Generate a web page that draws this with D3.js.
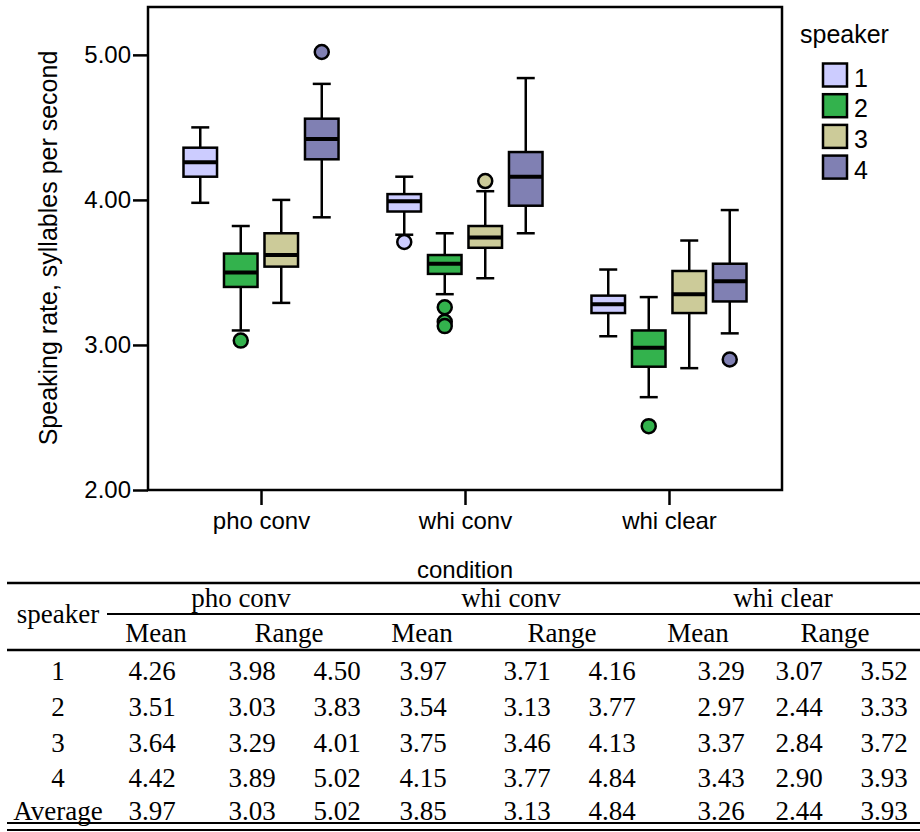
<!DOCTYPE html>
<html>
<head>
<meta charset="utf-8">
<script src="https://cdn.jsdelivr.net/npm/d3@7"></script>
<style>
  body { margin: 0; background: #fff; }
  svg { display: block; }
  .sans { font-family: "Liberation Sans", Arial, sans-serif; fill: #000; }
  .serif { font-family: "Liberation Serif", "Times New Roman", serif; fill: #000; }
</style>
</head>
<body>
<svg id="chart" width="920" height="832"></svg>
<script>
var conditions = ['pho conv', 'whi conv', 'whi clear'];
var speakers = ['1', '2', '3', '4'];
var speakerColors = ['#ccccff', '#33b24d', '#cccb99', '#8080b3'];
var yTicks = [2, 3, 4, 5];

// box stats per condition, one row per speaker: [lower whisker, q1, median, q3, upper whisker]
var phoConvBoxes = [
  [3.98, 4.16, 4.26, 4.36, 4.50],
  [3.10, 3.40, 3.50, 3.63, 3.82],
  [3.29, 3.54, 3.62, 3.77, 4.00],
  [3.88, 4.28, 4.42, 4.56, 4.80]
];
var whiConvBoxes = [
  [3.76, 3.92, 3.99, 4.04, 4.16],
  [3.35, 3.49, 3.56, 3.62, 3.77],
  [3.46, 3.67, 3.74, 3.82, 4.06],
  [3.77, 3.96, 4.16, 4.33, 4.84]
];
var whiClearBoxes = [
  [3.06, 3.22, 3.28, 3.34, 3.52],
  [2.64, 2.85, 2.98, 3.10, 3.33],
  [2.84, 3.22, 3.35, 3.51, 3.72],
  [3.08, 3.30, 3.44, 3.56, 3.93]
];
var phoConvOutliers = [[], [3.03], [], [5.02]];
var whiConvOutliers = [[3.71], [3.26, 3.16, 3.13], [4.13], []];
var whiClearOutliers = [[], [2.44], [], [2.90]];

// table below the chart
var tableRows = ['1', '2', '3', '4', 'Average'];
var phoConvTable = [
  ['4.26', '3.98', '4.50'], ['3.51', '3.03', '3.83'], ['3.64', '3.29', '4.01'],
  ['4.42', '3.89', '5.02'], ['3.97', '3.03', '5.02']
];
var whiConvTable = [
  ['3.97', '3.71', '4.16'], ['3.54', '3.13', '3.77'], ['3.75', '3.46', '4.13'],
  ['4.15', '3.77', '4.84'], ['3.85', '3.13', '4.84']
];
var whiClearTable = [
  ['3.29', '3.07', '3.52'], ['2.97', '2.44', '3.33'], ['3.37', '2.84', '3.72'],
  ['3.43', '2.90', '3.93'], ['3.26', '2.44', '3.93']
];

var allBoxes = [phoConvBoxes, whiConvBoxes, whiClearBoxes];
var allOutliers = [phoConvOutliers, whiConvOutliers, whiClearOutliers];
var allTables = [phoConvTable, whiConvTable, whiClearTable];

var svg = d3.select('#chart');
var plotL = 148, plotR = 782, plotT = 7, plotB = 490;

var x = d3.scalePoint().domain(conditions).range([plotL, plotR]).padding(0.554);
var sub = d3.scaleBand().domain(speakers).range([-81, 81]).paddingInner(0.11).paddingOuter(0.055);
var y = d3.scaleLinear().domain([2, 5.33]).range([plotB, plotT]);
var color = d3.scaleOrdinal().domain(speakers).range(speakerColors);

// frame
svg.append('rect')
  .attr('x', plotL).attr('y', plotT)
  .attr('width', plotR - plotL).attr('height', plotB - plotT)
  .attr('fill', 'none').attr('stroke', '#000').attr('stroke-width', 2.5);

// y axis
var yAxis = svg.append('g')
  .attr('transform', 'translate(' + plotL + ',0)')
  .call(d3.axisLeft(y).tickValues(yTicks).tickFormat(d3.format('.2f')).tickSize(15).tickPadding(2));
yAxis.select('.domain').remove();
yAxis.selectAll('line').attr('stroke', '#000').attr('stroke-width', 2.5);
yAxis.selectAll('text').attr('font-size', 24).attr('font-family', '"Liberation Sans", Arial, sans-serif').attr('fill', '#000');

// x axis
var xAxis = svg.append('g')
  .attr('transform', 'translate(0,' + plotB + ')')
  .call(d3.axisBottom(x).tickSize(15).tickPadding(7));
xAxis.select('.domain').remove();
xAxis.selectAll('line').attr('stroke', '#000').attr('stroke-width', 2.5);
xAxis.selectAll('text').attr('font-size', 24).attr('font-family', '"Liberation Sans", Arial, sans-serif').attr('fill', '#000');

svg.append('text')
  .attr('class', 'sans')
  .attr('transform', 'translate(57,248) rotate(-90)')
  .attr('text-anchor', 'middle')
  .attr('font-size', 25)
  .text('Speaking rate, syllables per second');

svg.append('text')
  .attr('class', 'sans')
  .attr('x', 465).attr('y', 578)
  .attr('text-anchor', 'middle')
  .attr('font-size', 24)
  .text('condition');

// boxes
var boxData = [];
conditions.forEach(function(c, ci){
  speakers.forEach(function(s, si){
    var b = allBoxes[ci][si];
    boxData.push({cond: c, speaker: s, lo: b[0], q1: b[1], med: b[2], q3: b[3], hi: b[4], out: allOutliers[ci][si]});
  });
});

var bw = sub.bandwidth();
var boxes = svg.selectAll('.box')
  .data(boxData)
  .enter()
  .append('g')
  .attr('class', 'box')
  .attr('transform', d => 'translate(' + (x(d.cond) + sub(d.speaker) + bw / 2) + ',0)');

boxes.append('line')
  .attr('x1', 0).attr('x2', 0)
  .attr('y1', d => y(d.lo)).attr('y2', d => y(d.hi))
  .attr('stroke', '#000').attr('stroke-width', 2.5);

boxes.selectAll('.cap')
  .data(d => [d.lo, d.hi])
  .enter()
  .append('line')
  .attr('class', 'cap')
  .attr('x1', -9).attr('x2', 9)
  .attr('y1', d => y(d)).attr('y2', d => y(d))
  .attr('stroke', '#000').attr('stroke-width', 2.5);

boxes.append('rect')
  .attr('x', -bw / 2 + 1.25)
  .attr('width', bw - 2.5)
  .attr('y', d => y(d.q3))
  .attr('height', d => y(d.q1) - y(d.q3))
  .attr('fill', d => color(d.speaker))
  .attr('stroke', '#000').attr('stroke-width', 2.5);

boxes.append('line')
  .attr('x1', -bw / 2 + 1.25).attr('x2', bw / 2 - 1.25)
  .attr('y1', d => y(d.med)).attr('y2', d => y(d.med))
  .attr('stroke', '#000').attr('stroke-width', 4);

boxes.selectAll('.outlier')
  .data(d => d.out.map(v => ({v: v, speaker: d.speaker})))
  .enter()
  .append('circle')
  .attr('class', 'outlier')
  .attr('cx', 0)
  .attr('cy', d => y(d.v))
  .attr('r', 7)
  .attr('fill', d => color(d.speaker))
  .attr('stroke', '#000').attr('stroke-width', 2.5);

// legend
var legend = svg.append('g').attr('class', 'sans');
legend.append('text')
  .attr('x', 800).attr('y', 43)
  .attr('font-size', 25)
  .text('speaker');
var items = legend.selectAll('.item')
  .data(speakers)
  .enter()
  .append('g')
  .attr('class', 'item')
  .attr('transform', (d, i) => 'translate(823,' + (63.5 + i * 30.7) + ')');
items.append('rect')
  .attr('width', 24).attr('height', 23)
  .attr('fill', d => color(d))
  .attr('stroke', '#000').attr('stroke-width', 2.5);
items.append('text')
  .attr('x', 31).attr('y', 23)
  .attr('font-size', 25)
  .text(d => d);

// table
var table = svg.append('g').attr('class', 'serif').attr('font-size', 27);
var tl = 7, tr = 920;
function hline(y0, x0, x1, w){
  table.append('line').attr('x1', x0).attr('x2', x1).attr('y1', y0).attr('y2', y0)
    .attr('stroke', '#000').attr('stroke-width', w);
}
hline(583, tl, tr, 2.5);
hline(614, 107, tr, 2);
hline(650, tl, tr, 2.5);
hline(823, tl, tr, 2);
hline(830, tl, tr, 2);

var condCenters = [241, 511, 783];
var meanCenters = [156, 422, 698];
var rangeCenters = [289, 562, 835];
var colCenters = [[152, 252, 337], [423, 527, 612], [721, 799, 884]];
var rowBase = [680, 716, 752, 787, 820];

table.append('text').attr('x', 58).attr('y', 623).attr('text-anchor', 'middle').text('speaker');
conditions.forEach(function(c, ci){
  table.append('text').attr('x', condCenters[ci]).attr('y', 607).attr('text-anchor', 'middle').text(c);
  table.append('text').attr('x', meanCenters[ci]).attr('y', 642).attr('text-anchor', 'middle').text('Mean');
  table.append('text').attr('x', rangeCenters[ci]).attr('y', 642).attr('text-anchor', 'middle').text('Range');
});

table.selectAll('.rowlabel')
  .data(tableRows)
  .enter()
  .append('text')
  .attr('class', 'rowlabel')
  .attr('x', 58).attr('y', (d, i) => rowBase[i])
  .attr('text-anchor', 'middle')
  .text(d => d);

allTables.forEach(function(t, ci){
  t.forEach(function(row, ri){
    row.forEach(function(v, k){
      table.append('text')
        .attr('x', colCenters[ci][k]).attr('y', rowBase[ri])
        .attr('text-anchor', 'middle')
        .text(v);
    });
  });
});
</script>
</body>
</html>
